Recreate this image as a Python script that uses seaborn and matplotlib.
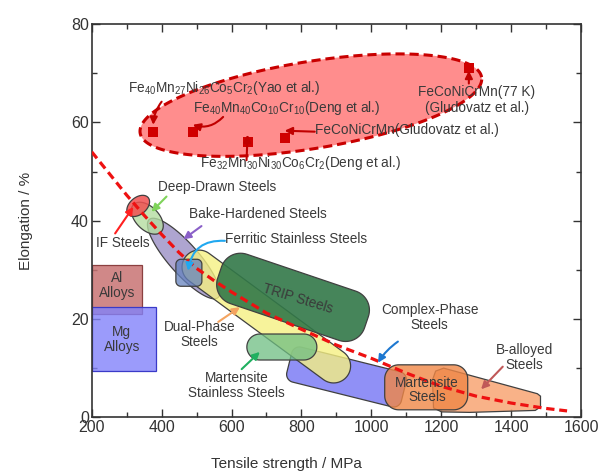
import numpy as np
import matplotlib
matplotlib.use("Agg")
import matplotlib.pyplot as plt
from matplotlib import font_manager
import seaborn as sns

# ============================================
# DATA (tensile strength in MPa, elongation in %)
# ============================================
trend_strength = [200, 250, 300, 350, 400, 450, 500, 550, 600, 700, 800,
                  900, 1000, 1100, 1200, 1300, 1400, 1500, 1560]
trend_elong = [54.0, 49.6, 45.2, 41.1, 37.2, 33.5, 30.3, 27.8, 25.5, 21.2, 17.9,
               14.7, 12.0, 9.0, 6.3, 4.3, 2.9, 1.8, 1.3]

# high entropy alloys
hea_strength = [376, 489, 646, 752, 1279]
hea_elong = [58.0, 58.0, 56.0, 56.8, 71.0]
hea_names = [
    "Fe$_{40}$Mn$_{27}$Ni$_{26}$Co$_{5}$Cr$_{2}$(Yao et al.)",
    "Fe$_{40}$Mn$_{40}$Co$_{10}$Cr$_{10}$(Deng et al.)",
    "Fe$_{32}$Mn$_{30}$Ni$_{30}$Co$_{6}$Cr$_{2}$(Deng et al.)",
    "FeCoNiCrMn(Gludovatz et al.)",
    "FeCoNiCrMn(77 K)\n(Gludovatz et al.)",
]
hea_label_x = [305, 490, 509, 838, 1302]
hea_label_y = [66.9, 62.9, 51.7, 58.4, 64.6]
hea_arrow_x = [400, 576, 643, 838, 1279]
hea_arrow_y = [64.2, 61.1, 52.3, 58.1, 67.9]

# conventional alloy regions
region_names = ["HEA", "Al", "Mg", "Complex-Phase", "B-alloyed", "Martensite",
                "Bake-Hardened", "Deep-Drawn", "IF", "Dual-Phase", "TRIP",
                "Martensite Stainless", "Ferritic Stainless"]
region_x = [827, 271.5, 291.5, 929, None, 1157, 463, 359, 333, 699.5, 776, 744, 478]
region_y = [63.5, 26.0, 16.0, 8.2, None, 6.1, 32.3, 40.5, 43.0, 20.5, 24.4, 14.3, 29.4]
# rectangles for Al / Mg (strength span, elongation span)
al_span = ([200, 343], [21.0, 31.0])
mg_span = ([200, 383], [9.5, 22.5])
# B-alloyed steels outline
balloy_x = [1175, 1184, 1207, 1475, 1484, 1484, 1469, 1281, 1201, 1178]
balloy_y = [7.6, 9.4, 10.0, 4.8, 4.3, 2.1, 1.4, 1.0, 1.1, 1.9]

label_text = ["Deep-Drawn Steels", "IF Steels", "Bake-Hardened Steels",
              "Ferritic Stainless Steels", "TRIP Steels", "Dual-Phase\nSteels",
              "Martensite\nStainless Steels", "Al\nAlloys", "Mg\nAlloys",
              "Complex-Phase\nSteels", "Martensite\nSteels", "B-alloyed\nSteels"]
label_x = [560, 290, 676, 786, 790, 509, 614, 273, 286, 1167, 1159, 1438]
label_y = [46.9, 35.5, 41.4, 36.2, 24.2, 16.8, 6.4, 26.8, 15.9, 20.3, 5.6, 12.2]

# arrows from labels to regions (tail -> head)
arr_tail_x = [414, 267, 514, 581, 562, 629, 1076, 1376]
arr_tail_y = [44.9, 37.4, 38.9, 35.9, 19.4, 9.8, 15.4, 10.3]
arr_head_x = [371, 319, 462, 476, 624, 681, 1019, 1314]
arr_head_y = [41.8, 42.8, 36.2, 29.8, 22.4, 13.3, 11.1, 5.7]
arr_colors = ["#7fd35a", "#ff2020", "#8a60c8", "#20a8f0", "#f4a460", "#20b060",
              "#1e78d0", "#c05858"]
arr_rad = [0.0, 0.0, 0.0, 0.45, 0.0, 0.0, 0.1, 0.0]

# ============================================
# FONTS / STYLE
# ============================================
sns.set_style("ticks")
names = {f.name for f in font_manager.fontManager.ttflist}
if "Liberation Sans Narrow" in names:
    FAMILY = ["Liberation Sans Narrow", "DejaVu Sans"]
    TICK_FS, LAB_FS, TXT_FS = 13, 13, 11.5
else:
    FAMILY = ["Liberation Sans", "DejaVu Sans"]
    TICK_FS, LAB_FS, TXT_FS = 11.5, 11, 9.8
plt.rcParams["font.family"] = FAMILY
plt.rcParams["mathtext.default"] = "regular"
TXT = "#3a3a3a"


def to_rgba(rgb, a):
    return (rgb[0] / 255, rgb[1] / 255, rgb[2] / 255, a)


def place(ax, pts, cx, cy, ang):
    t = np.radians(ang)
    rot = np.array([[np.cos(t), -np.sin(t)], [np.sin(t), np.cos(t)]])
    c = ax.transData.transform((cx, cy))
    disp = pts @ rot.T + c
    d = ax.transData.inverted().transform(disp)
    return d[:, 0], d[:, 1]


def ellipse(ax, cx, cy, a, b, ang, **kw):
    t = np.linspace(0, 2 * np.pi, 200)
    pts = np.c_[a * np.cos(t), b * np.sin(t)]
    xs, ys = place(ax, pts, cx, cy, ang)
    return ax.fill(xs, ys, **kw)


def rounded(ax, cx, cy, length, width, ang, rad, **kw):
    hl, hw = length / 2 - rad, width / 2 - rad
    segs = []
    for sx, sy, a0 in [(hl, hw, 0), (-hl, hw, 90), (-hl, -hw, 180), (hl, -hw, 270)]:
        t = np.radians(np.linspace(a0, a0 + 90, 16))
        segs.append(np.c_[sx + rad * np.cos(t), sy + rad * np.sin(t)])
    xs, ys = place(ax, np.vstack(segs), cx, cy, ang)
    return ax.fill(xs, ys, **kw)


# ============================================
# FIGURE
# ============================================
fig = plt.figure(figsize=(6.05, 4.71), dpi=100)
ax = fig.add_axes([0.1516, 0.114, 0.8088, 0.835])
ax.set_xlim(200, 1600)
ax.set_ylim(0, 80)
ax.set_axisbelow(True)

edge = dict(edgecolor="#404040", linewidth=0.9)

# HEA region
ellipse(ax, region_x[0], region_y[0], 173, 43.5, 9.3,
        facecolor=to_rgba((255, 135, 135), 0.95), edgecolor="#c80000",
        linewidth=2.2, linestyle=(0, (3, 1.6)), zorder=1)

ax.fill([al_span[0][0], al_span[0][1], al_span[0][1], al_span[0][0]],
        [al_span[1][0], al_span[1][0], al_span[1][1], al_span[1][1]],
        facecolor=to_rgba((200, 115, 115), 0.85), edgecolor="#8b4040", linewidth=0.9, zorder=1)
ax.fill([mg_span[0][0], mg_span[0][1], mg_span[0][1], mg_span[0][0]],
        [mg_span[1][0], mg_span[1][0], mg_span[1][1], mg_span[1][1]],
        facecolor=to_rgba((130, 130, 250), 0.8), edgecolor="#3a3ac8", linewidth=0.9, zorder=1)

rounded(ax, region_x[3], region_y[3], 118, 36, -14, 8,
        facecolor=to_rgba((125, 125, 245), 0.85), zorder=1, **edge)
ax.fill(balloy_x, balloy_y, facecolor=to_rgba((248, 165, 115), 0.85), zorder=1, **edge)
rounded(ax, region_x[5], region_y[5], 83, 45, 0, 14,
        facecolor=to_rgba((240, 135, 70), 0.8), zorder=1, **edge)
ellipse(ax, region_x[6], region_y[6], 52, 15, -48.6,
        facecolor=to_rgba((160, 150, 200), 0.85), zorder=1, **edge)
ellipse(ax, region_x[7], region_y[7], 19.4, 11.6, -45,
        facecolor=to_rgba((180, 220, 160), 0.8), zorder=1, **edge)
ellipse(ax, region_x[8], region_y[8], 13, 8.5, 40,
        facecolor=to_rgba((240, 80, 80), 0.85), zorder=1, **edge)
rounded(ax, region_x[9], region_y[9], 201, 34, -36.3, 17,
        facecolor=to_rgba((245, 240, 130), 0.8), zorder=1, **edge)
rounded(ax, region_x[10], region_y[10], 155, 52, -18.7, 20,
        facecolor=to_rgba((50, 120, 72), 0.9), zorder=1, **edge)
rounded(ax, region_x[11], region_y[11], 70, 26, 0, 13,
        facecolor=to_rgba((110, 190, 130), 0.75), zorder=1, **edge)
rounded(ax, region_x[12], region_y[12], 26, 27, 0, 5,
        facecolor=to_rgba((100, 130, 190), 0.75), zorder=1, **edge)

# dashed trend line
sns.lineplot(x=trend_strength, y=trend_elong, color="#ee1111", linewidth=2.3,
             ax=ax, zorder=5)
ax.lines[-1].set_dashes([2.6, 1.5])

# HEA points
sns.scatterplot(x=hea_strength, y=hea_elong, marker="s", s=48, color="#d00000",
                edgecolor="#d00000", linewidth=0, ax=ax, zorder=6)

for i, name in enumerate(hea_names):
    ha = "center" if "\n" in name else "left"
    ax.text(hea_label_x[i], hea_label_y[i], name, fontsize=TXT_FS, color=TXT,
            ha=ha, va="center", linespacing=1.15, zorder=7)
    ax.annotate("", xy=(hea_strength[i], hea_elong[i] + (1.5 if i != 4 else -0.5)),
                xytext=(hea_arrow_x[i], hea_arrow_y[i]),
                arrowprops=dict(arrowstyle="-|>", color="#c00000", lw=1.5,
                                mutation_scale=11, shrinkA=0, shrinkB=0,
                                connectionstyle="arc3,rad=%s" % ([0.15, -0.3, 0, 0, 0][i])),
                zorder=7)

for i, txt in enumerate(label_text):
    rot = -17 if txt.startswith("TRIP") else 0
    ls = 0.95 if txt == "Martensite\nSteels" else 1.1
    ax.text(label_x[i], label_y[i], txt, fontsize=TXT_FS, color=TXT, ha="center",
            va="center", rotation=rot, linespacing=ls, zorder=7)

for i in range(len(arr_tail_x)):
    ax.annotate("", xy=(arr_head_x[i], arr_head_y[i]), xytext=(arr_tail_x[i], arr_tail_y[i]),
                arrowprops=dict(arrowstyle="-|>", color=arr_colors[i], lw=1.5,
                                mutation_scale=11, shrinkA=0, shrinkB=0,
                                connectionstyle="arc3,rad=%s" % arr_rad[i]),
                zorder=7)

# axes cosmetics
ax.set_xticks(range(200, 1601, 200))
ax.set_xticks(range(300, 1600, 200), minor=True)
ax.set_yticks(range(0, 81, 20))
ax.set_yticks(range(10, 80, 20), minor=True)
ax.tick_params(which="both", direction="in", top=True, right=True, color="#333333",
               width=1.0, labelsize=TICK_FS, labelcolor="#333333", pad=2)
ax.tick_params(which="major", length=6)
ax.tick_params(which="minor", length=3.5)
for s in ax.spines.values():
    s.set_color("#333333")
    s.set_linewidth(1.2)

ax.set_xlabel("Tensile strength / MPa", fontsize=LAB_FS, color="#333333")
ax.set_ylabel("Elongation / %", fontsize=LAB_FS, color="#333333")
ax.xaxis.set_label_coords(0.397, -0.118)
ax.xaxis.label.set_va("center")
ax.yaxis.set_label_coords(-0.135, 0.5)
ax.yaxis.label.set_va("center")

fig.savefig("out.png", dpi=100)
